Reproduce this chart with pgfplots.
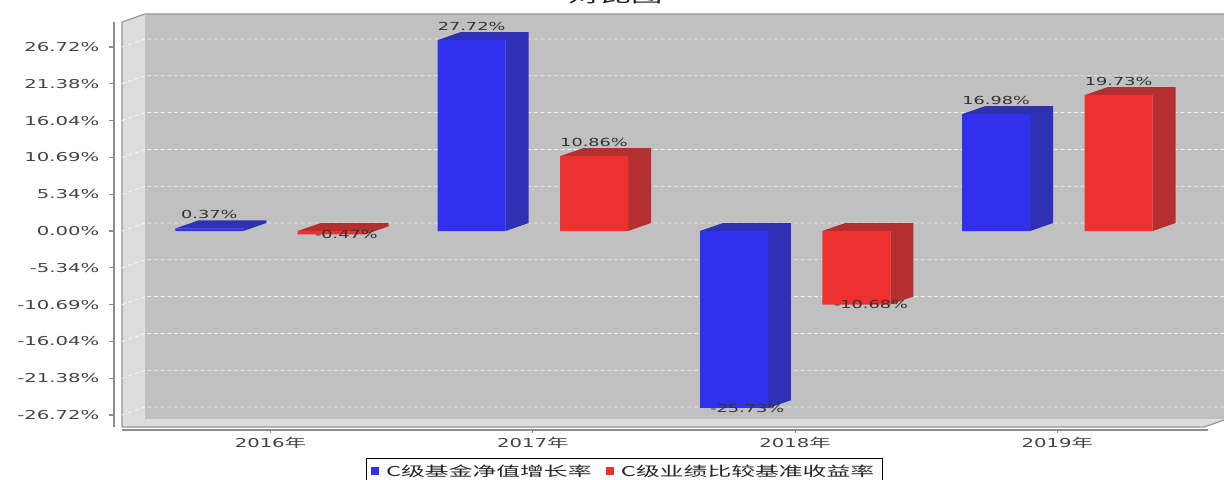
\documentclass[border=0pt]{standalone}
\usepackage{pgfplots}
\pgfplotsset{compat=1.18}
\usepackage{fontspec}
\setmainfont{DejaVu Sans}[FakeStretch=1.6]
\newfontfamily\cjk{Noto Sans CJK SC}[FakeStretch=1.75]
\definecolor{bluefront}{RGB}{48,48,238}
\definecolor{blueside}{RGB}{48,48,180}
\definecolor{redfront}{RGB}{238,48,48}
\definecolor{redside}{RGB}{180,48,48}
\definecolor{wallback}{RGB}{192,192,192}
\definecolor{wallside}{RGB}{221,221,221}
\definecolor{wallline}{RGB}{150,150,150}
\definecolor{ticktext}{RGB}{68,68,68}
\definecolor{axisgray}{RGB}{140,140,140}
\begin{document}
\begin{tikzpicture}
\path[use as bounding box] (0,0) rectangle (918pt,-359.25pt);
\clip (0,0) rectangle (918pt,-359.25pt);
\node[anchor=base, font=\cjk\fontsize{13.5}{15}\selectfont, text=black!85, inner sep=0pt] at (462pt,-1.6pt) {对比图};
\begin{axis}[
  at={(91.5pt,-320.25pt)}, anchor=south west,
  width=811.5pt, height=303.75pt, scale only axis,
  xmin=122, xmax=1204, ymin=-28.46, ymax=30.35,
  clip=false,
  axis line style={draw=none},
  major tick length=0pt,
  xtick={270.5,532.8,795.1,1057.4},
  xticklabels={2016{\cjk 年},2017{\cjk 年},2018{\cjk 年},2019{\cjk 年}},
  ytick={-26.72,-21.38,-16.04,-10.69,-5.34,0,5.34,10.69,16.04,21.38,26.72},
  yticklabels={-26.72\%,-21.38\%,-16.04\%,-10.69\%,-5.34\%,0.00\%,5.34\%,10.69\%,16.04\%,21.38\%,26.72\%},
  tick label style={font=\fontsize{9.2}{11}\selectfont, text=ticktext},
  yticklabel style={xshift=-13.5pt},
  xticklabel style={yshift=-4pt},
  legend style={at={(axis description cs:0.4640,0)}, anchor=north, yshift=-23.25pt,
    draw=black, line width=0.75pt, font=\cjk\fontsize{10.2}{12}\selectfont, text=black!85,
    /tikz/every even column/.append style={column sep=9pt}, inner xsep=4pt, inner ysep=2.5pt},
  legend columns=2,
  legend image code/.code={\fill (0pt,-3pt) rectangle (6pt,3pt); \path (0pt,0pt) -- (9pt,0pt);},
]
% walls
\fill[wallback] (axis cs:145,-27.30) rectangle (axis cs:1227,31.51);
\fill[wallside] (axis cs:122,-28.46) -- (axis cs:145,-27.30) -- (axis cs:145,31.51) -- (axis cs:122,30.35) -- cycle;
\fill[wallside] (axis cs:122,-28.46) -- (axis cs:145,-27.30) -- (axis cs:1227,-27.30) -- (axis cs:1204,-28.46) -- cycle;
\draw[wallline, line width=0.9pt] (axis cs:122,-28.46) -- (axis cs:122,30.35) -- (axis cs:145,31.51) -- (axis cs:1227,31.51);
\draw[wallline, line width=0.9pt] (axis cs:122,-28.46) -- (axis cs:1204,-28.46) -- (axis cs:1227,-27.30);
% grid
\pgfplotsinvokeforeach{-26.72,-21.38,-16.04,-10.69,-5.34,0,5.34,10.69,16.04,21.38,26.72}{
  \draw[white, opacity=0.8, line width=0.6pt, dash pattern=on 3pt off 2pt] (axis cs:122,#1) -- (axis cs:145,#1+1.16) -- (axis cs:1227,#1+1.16);
  \draw[axisgray, line width=0.9pt] (axis cs:109,#1) -- (axis cs:114,#1);
}
% axis lines
\draw[axisgray, line width=1.4pt] (axis cs:114,30.35) -- (axis cs:114,-28.46);
\draw[axisgray, line width=1.2pt] (axis cs:122,-28.90) -- (axis cs:1208,-28.90);
\pgfplotsinvokeforeach{270.5,532.8,795.1,1057.4}{
  \draw[axisgray, line width=0.8pt] (axis cs:#1,-28.90) -- (axis cs:#1,-29.40);
}
% bar sides and tops (blue)
\addplot[fill=blueside, draw=none, forget plot] coordinates {(175.3,0.37) (198.3,1.53) (266.3,1.53) (266.3,1.16) (243.3,0) (243.3,0.37)} -- cycle;
\addplot[fill=blueside, draw=none, forget plot] coordinates {(437.6,27.72) (460.6,28.88) (528.6,28.88) (528.6,1.16) (505.6,0) (505.6,27.72)} -- cycle;
\addplot[fill=blueside, draw=none, forget plot] coordinates {(699.9,0) (722.9,1.16) (790.9,1.16) (790.9,-24.57) (767.9,-25.73) (767.9,0)} -- cycle;
\addplot[fill=blueside, draw=none, forget plot] coordinates {(962.2,16.98) (985.2,18.14) (1053.2,18.14) (1053.2,1.16) (1030.2,0) (1030.2,16.98)} -- cycle;
% bar sides and tops (red)
\addplot[fill=redside, draw=none, forget plot] coordinates {(297.7,0) (320.7,1.16) (388.7,1.16) (388.7,0.69) (365.7,-0.47) (365.7,0)} -- cycle;
\addplot[fill=redside, draw=none, forget plot] coordinates {(560,10.86) (583,12.02) (651,12.02) (651,1.16) (628,0) (628,10.86)} -- cycle;
\addplot[fill=redside, draw=none, forget plot] coordinates {(822.3,0) (845.3,1.16) (913.3,1.16) (913.3,-9.52) (890.3,-10.68) (890.3,0)} -- cycle;
\addplot[fill=redside, draw=none, forget plot] coordinates {(1084.6,19.73) (1107.6,20.89) (1175.6,20.89) (1175.6,1.16) (1152.6,0) (1152.6,19.73)} -- cycle;
% front faces
\addplot[ybar, bar width=68, bar shift=0pt, fill=bluefront, draw=none, forget plot,
  point meta=explicit symbolic, nodes near coords, nodes near coords align={anchor=base},
  every node near coord/.append style={yshift=7.5pt, font=\fontsize{8.3}{10}\selectfont, text=black!80}]
  coordinates {(209.3,0.37)[0.37\%] (471.6,27.72)[27.72\%] (996.2,16.98)[16.98\%]};
\addplot[ybar, bar width=68, bar shift=0pt, fill=bluefront, draw=none, forget plot,
  point meta=explicit symbolic, nodes near coords, nodes near coords align={anchor=center},
  every node near coord/.append style={xshift=10pt, font=\fontsize{8.3}{10}\selectfont, text=black!80}]
  coordinates {(733.9,-25.73)[-25.73\%]};
\addplot[ybar, bar width=68, bar shift=0pt, fill=redfront, draw=none, forget plot,
  point meta=explicit symbolic, nodes near coords, nodes near coords align={anchor=base},
  every node near coord/.append style={yshift=7.5pt, font=\fontsize{8.3}{10}\selectfont, text=black!80}]
  coordinates {(594.0,10.86)[10.86\%] (1118.6,19.73)[19.73\%]};
\addplot[ybar, bar width=68, bar shift=0pt, fill=redfront, draw=none, forget plot,
  point meta=explicit symbolic, nodes near coords, nodes near coords align={anchor=center},
  every node near coord/.append style={xshift=11pt, font=\fontsize{8.3}{10}\selectfont, text=black!80}]
  coordinates {(331.7,-0.47)[-0.47\%] (856.3,-10.68)[-10.68\%]};
\addlegendimage{fill=bluefront, draw=none}
\addlegendentry{C级基金净值增长率}
\addlegendimage{fill=redfront, draw=none}
\addlegendentry{C级业绩比较基准收益率}
\end{axis}
\end{tikzpicture}
\end{document}
